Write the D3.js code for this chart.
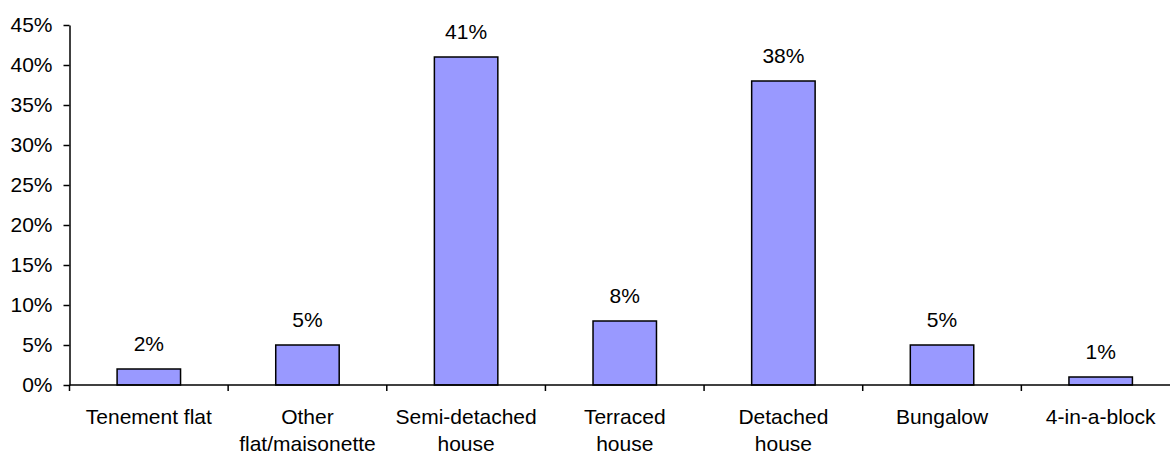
<!DOCTYPE html>
<html>
<head>
<meta charset="utf-8">
<script src="https://cdn.jsdelivr.net/npm/d3@7"></script>
<style>
  body { margin: 0; background: #fff; }
  svg text { font-family: "Liberation Sans", Arial, sans-serif; fill: #000; }
</style>
</head>
<body>
<div id="chart"></div>
<script>
// dwelling type shares
const categories = [
  ['Tenement flat'],
  ['Other', 'flat/maisonette'],
  ['Semi-detached', 'house'],
  ['Terraced', 'house'],
  ['Detached', 'house'],
  ['Bungalow'],
  ['4-in-a-block']
];
const values = [2, 5, 41, 8, 38, 5, 1];
const yTicks = [0, 5, 10, 15, 20, 25, 30, 35, 40, 45];

const width = 1170, height = 455;
const margin = { top: 25, left: 69.5, bottom: 70 };
const plotRight = 1180; // the axis runs past the picture's right edge

const svg = d3.select('#chart').append('svg')
  .attr('width', width)
  .attr('height', height);

const keys = categories.map((c, i) => i);
const x = d3.scaleBand()
  .domain(keys)
  .range([margin.left, plotRight]);

const y = d3.scaleLinear()
  .domain([0, 45])
  .range([height - margin.bottom, margin.top]);

const fontSize = 21;
const barW = x.step() * 0.4;

// bars
svg.selectAll('rect.bar')
  .data(values)
  .join('rect')
  .attr('class', 'bar')
  .attr('x', (d, i) => x(i) + (x.bandwidth() - barW) / 2)
  .attr('y', d => y(d))
  .attr('width', barW)
  .attr('height', d => y(0) - y(d))
  .attr('fill', '#9999ff')
  .attr('stroke', '#000')
  .attr('stroke-width', 1.5);

// value labels
svg.selectAll('text.val')
  .data(values)
  .join('text')
  .attr('class', 'val')
  .attr('x', (d, i) => x(i) + x.bandwidth() / 2)
  .attr('y', d => y(d) - 18)
  .attr('text-anchor', 'middle')
  .style('font-size', fontSize + 'px')
  .text(d => d + '%');

// y axis
const yAxis = d3.axisLeft(y)
  .tickValues(yTicks)
  .tickFormat(d => d + '%')
  .tickSize(6)
  .tickSizeOuter(0)
  .tickPadding(11);

const gy = svg.append('g')
  .attr('transform', `translate(${margin.left},0)`)
  .call(yAxis);
gy.select('.domain').attr('stroke', '#000').attr('stroke-width', 1.5);
gy.selectAll('.tick line').attr('stroke', '#000').attr('stroke-width', 1.5);
gy.selectAll('.tick text')
  .style('font-size', fontSize + 'px')
  .style('font-family', '"Liberation Sans", Arial, sans-serif')
  .attr('fill', '#000');

// x axis: ticks sit on category boundaries
const boundaries = d3.range(keys.length + 1).map(i => margin.left + i * x.step());
const gx = svg.append('g');
gx.append('line')
  .attr('x1', margin.left)
  .attr('x2', plotRight)
  .attr('y1', y(0))
  .attr('y2', y(0))
  .attr('stroke', '#000')
  .attr('stroke-width', 1.5);
gx.selectAll('line.tk')
  .data(boundaries)
  .join('line')
  .attr('class', 'tk')
  .attr('x1', d => d)
  .attr('x2', d => d)
  .attr('y1', y(0))
  .attr('y2', y(0) + 6)
  .attr('stroke', '#000')
  .attr('stroke-width', 1.5);

// category labels, wrapped over two lines where needed
const labels = svg.selectAll('text.cat')
  .data(categories)
  .join('text')
  .attr('class', 'cat')
  .attr('text-anchor', 'middle')
  .style('font-size', fontSize + 'px');
labels.selectAll('tspan')
  .data((d, i) => d.map((line, j) => ({ line, j, i })))
  .join('tspan')
  .attr('x', d => x(d.i) + x.bandwidth() / 2)
  .attr('y', d => y(0) + 39 + d.j * 27)
  .text(d => d.line);
</script>
</body>
</html>
